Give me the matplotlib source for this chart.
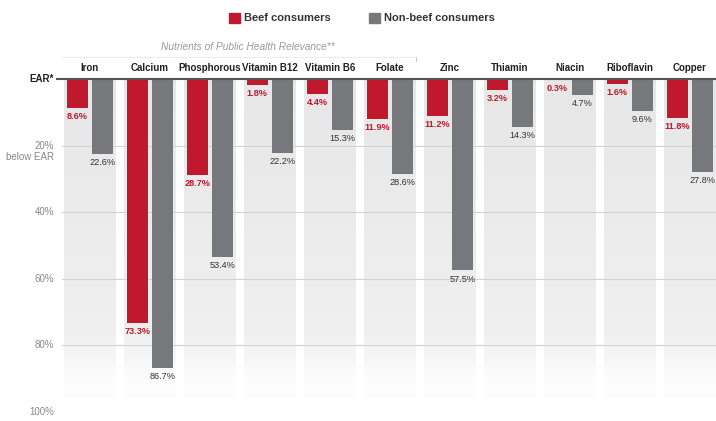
import numpy as np
import matplotlib
matplotlib.use("Agg")
import matplotlib.pyplot as plt
from matplotlib.patches import Patch
from matplotlib.lines import Line2D

plt.rcParams['font.family'] = ['Liberation Sans', 'DejaVu Sans']

nutrients = ["Iron", "Calcium", "Phosphorous", "Vitamin B12", "Vitamin B6", "Folate",
             "Zinc", "Thiamin", "Niacin", "Riboflavin", "Copper"]
beef = [8.6, 73.3, 28.7, 1.8, 4.4, 11.9, 11.2, 3.2, 0.3, 1.6, 11.8]
nonbeef = [22.6, 86.7, 53.4, 22.2, 15.3, 28.6, 57.5, 14.3, 4.7, 9.6, 27.8]
ytick_vals = [20, 40, 60, 80, 100]
ytick_labels = ["20%", "40%", "60%", "80%", "100%"]

RED = "#c0192d"
GRAY = "#77787b"

fig = plt.figure(figsize=(7.16, 4.21), dpi=100)
ax = fig.add_axes([62/716, 1 - 412/421, 654/716, (412 - 79)/421])

x = np.arange(len(nutrients))

# background column panels, fading to white at the bottom
t = np.linspace(0, 1, 200)
shade = np.where(t < 0.8, 0.905 + 0.035 * t / 0.8, 0.94 + 0.055 * np.clip((t - 0.8) / 0.16, 0, 1))
img = np.dstack([shade, shade, shade * 1.004]).clip(0, 1).reshape(-1, 1, 3)
for xi in x:
    ax.imshow(img, extent=(xi - 0.43, xi + 0.43, 96, 0), origin='upper', aspect='auto',
              interpolation='bilinear', zorder=0)

for g in [20, 40, 60, 80]:
    ax.axhline(g, color="#d2d2d4", lw=0.8, zorder=1)

w = 0.35
ax.bar(x - 0.21, beef, width=w, color=RED, zorder=2)
ax.bar(x + 0.21, nonbeef, width=w, color=GRAY, zorder=2)

for xi, b, n in zip(x, beef, nonbeef):
    ax.annotate(f"{b}%", (xi - 0.21, b), xytext=(0, -3), textcoords="offset points",
                ha="center", va="top", fontsize=6.6, fontweight="bold", color=RED,
                annotation_clip=False)
    ax.annotate(f"{n}%", (xi + 0.21, n), xytext=(0, -3), textcoords="offset points",
                ha="center", va="top", fontsize=6.6, color="#333333",
                annotation_clip=False)

for xi, name in zip(x, nutrients):
    ax.annotate(name, (xi, 0), xytext=(0, 4), textcoords="offset points",
                ha="center", va="bottom", fontsize=7, fontweight="bold", color="#222222",
                annotation_clip=False)

# EAR baseline
ax.plot([-0.008, 1], [0, 0], transform=ax.get_yaxis_transform(), color="#555555",
        lw=1.5, clip_on=False, zorder=3)
ax.text(-0.012, 0, "EAR*", transform=ax.get_yaxis_transform(), ha="right", va="center",
        fontsize=7, fontweight="bold", color="#222222")
for v, lab in zip(ytick_vals, ytick_labels):
    ax.text(-0.012, v, lab, transform=ax.get_yaxis_transform(), ha="right", va="center",
            fontsize=7, color="#888888")
ax.text(-0.012, 22, "below EAR", transform=ax.get_yaxis_transform(), ha="right", va="top",
        fontsize=7, color="#888888")

ax.set_xlim(-0.465, 10.44)
ax.set_ylim(100, 0)
ax.axis("off")

# subtitle bracket
fig.text(248/716, 1 - 47/421, "Nutrients of Public Health Relevance**", ha="center", va="center",
         fontsize=7.3, style="italic", color="#999999")
fig.add_artist(Line2D([62/716, 416/716], [1 - 57/421, 1 - 57/421], color="#ececec", lw=0.8))
fig.add_artist(Line2D([416/716, 416/716], [1 - 57/421, 1 - 61/421], color="#cccccc", lw=0.8))

handles = [Patch(color=RED), Patch(color=GRAY)]
fig.legend(handles, ["Beef consumers", "Non-beef consumers"], loc="center",
           bbox_to_anchor=(362/716, 1 - 18/421), ncol=2, frameon=False,
           handlelength=1.0, handleheight=1.0, handletextpad=0.3, columnspacing=3.5,
           prop={"size": 8, "weight": "bold"}, labelcolor="#333333")

fig.savefig("out.png", dpi=100)
